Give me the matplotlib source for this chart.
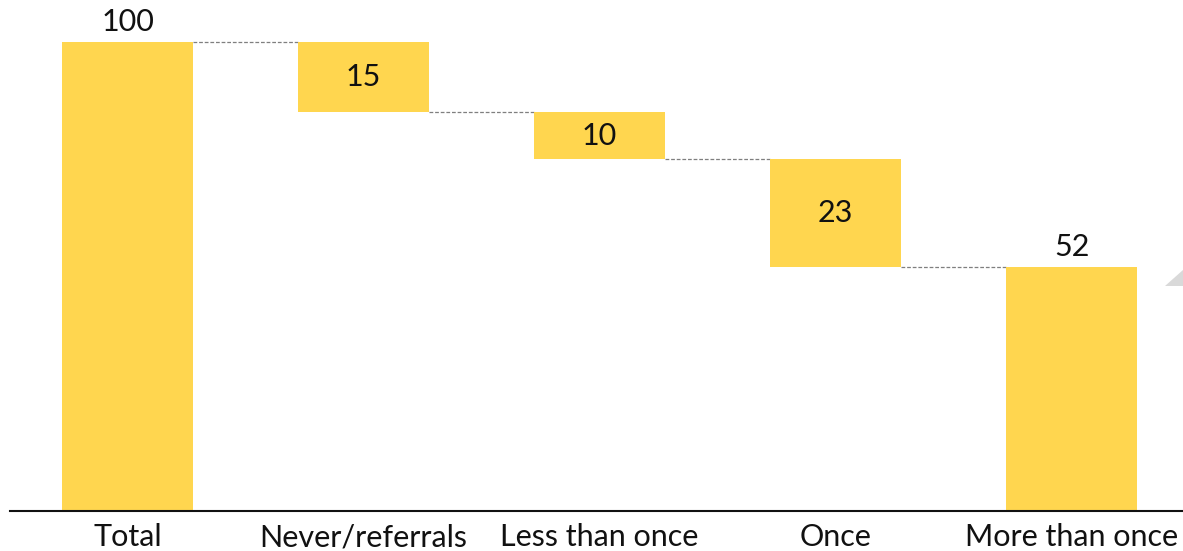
import matplotlib.pyplot as plt
from matplotlib.patches import Polygon

categories = ['Total', 'Never/referrals', 'Less than once', 'Once', 'More than once']
values = [100, 15, 10, 23, 52]
kinds = ['total', 'drop', 'drop', 'drop', 'total']

bar_color = '#FFD64F'

plt.rcParams['font.family'] = ['Lato', 'DejaVu Sans']

fig = plt.figure(figsize=(11.83, 5.51), dpi=100)
ax = fig.add_axes([10 / 1183, 40 / 551, 1 - 10 / 1183, 511 / 551])

# work out bottoms/tops for the waterfall
bottoms = []
tops = []
level = 0
for v, k in zip(values, kinds):
    if k == 'total':
        bottoms.append(0)
        tops.append(v)
        level = v
    else:
        bottoms.append(level - v)
        tops.append(level)
        level = level - v

x = list(range(len(categories)))
w = 0.555
heights = [t - b for t, b in zip(tops, bottoms)]
ax.bar(x, heights, bottom=bottoms, width=w, color=bar_color, zorder=2)

# connectors
for i in range(len(x) - 1):
    y = tops[i + 1]
    ax.plot([x[i] + w / 2, x[i + 1] - w / 2], [y, y], color='#7f7f7f',
            lw=0.9, ls=(0, (3, 1.5)), zorder=1)

fs = 22
# labels
for i, (v, k) in enumerate(zip(values, kinds)):
    if k == 'total':
        ax.text(x[i], tops[i] + 1.2, str(v), ha='center', va='bottom',
                fontsize=fs, color='#111111')
    else:
        ax.text(x[i], (tops[i] + bottoms[i]) / 2, str(v), ha='center', va='center',
                fontsize=fs, color='#111111')

ax.set_xlim(-0.498, 4.472)
ax.set_ylim(0, 511 / 4.69)
ax.set_xticks(x)
ax.set_xticklabels(categories, fontsize=fs, color='#111111')
ax.tick_params(axis='x', length=0, pad=9)
ax.set_yticks([])
for s in ['top', 'right', 'left']:
    ax.spines[s].set_visible(False)
ax.spines['bottom'].set_linewidth(1.5)
ax.spines['bottom'].set_color('#111111')

# small grey corner artefact at right edge
tri = Polygon([[1165 / 1183, 1 - 286 / 551], [1.0, 1 - 270 / 551], [1.0, 1 - 286 / 551]],
              closed=True, transform=fig.transFigure, color='#d9d9d9', lw=0)
fig.patches.append(tri)

fig.savefig('out.png', dpi=100)
